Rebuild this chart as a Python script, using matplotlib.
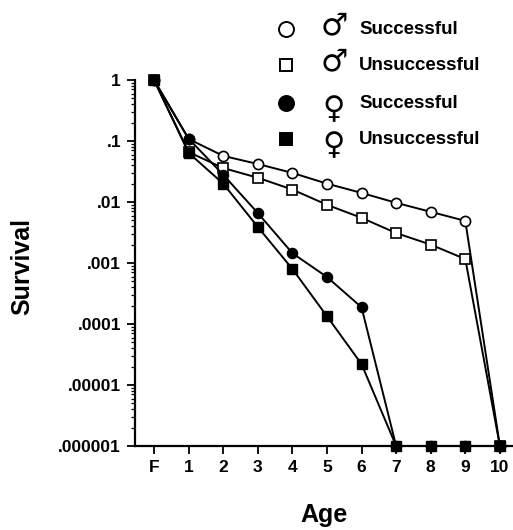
import matplotlib
matplotlib.use("Agg")
import matplotlib.pyplot as plt
from matplotlib.ticker import FixedLocator, LogLocator, NullFormatter

plt.rcParams['font.family'] = ['Liberation Sans', 'DejaVu Sans']

ages = ["F", "1", "2", "3", "4", "5", "6", "7", "8", "9", "10"]
male_success = [1, 0.108, 0.057, 0.042, 0.030, 0.020, 0.0141, 0.0097, 0.0069, 0.0049, 1e-6]
male_unsuccess = [1, 0.066, 0.036, 0.025, 0.016, 0.0090, 0.0055, 0.0031, 0.0020, 0.00116, 1e-6]
female_success = [1, 0.109, 0.028, 0.0066, 0.00145, 0.00059, 0.000188, 1e-6, 1e-6, 1e-6, 1e-6]
female_unsuccess = [1, 0.064, 0.020, 0.0039, 0.00080, 0.000134, 2.2e-5, 1e-6, 1e-6, 1e-6, 1e-6]
ytick_vals = [1, 0.1, 0.01, 0.001, 0.0001, 0.00001, 0.000001]
ytick_labels = ["1", ".1", ".01", ".001", ".0001", ".00001", ".000001"]
legend_labels = ["Successful", "Unsuccessful", "Successful", "Unsuccessful"]
legend_sex = ["\u2642", "\u2642", "\u2640", "\u2640"]

W, H = 513, 530
fig = plt.figure(figsize=(W / 100, H / 100), dpi=100)
ax = fig.add_axes([135 / W, 1 - 446 / H, 377 / W, 366 / H])

x = list(range(len(ages)))
lw = 1.4
ax.plot(x, male_success, '-o', color='black', mfc='white', mec='black', lw=lw, ms=7.3, mew=1.2, clip_on=False, zorder=3)
ax.plot(x, male_unsuccess, '-s', color='black', mfc='white', mec='black', lw=lw, ms=6.8, mew=1.2, clip_on=False, zorder=3)
ax.plot(x, female_success, '-o', color='black', mfc='black', mec='black', lw=lw, ms=7.3, clip_on=False, zorder=4)
ax.plot(x, female_unsuccess, '-s', color='black', mfc='black', mec='black', lw=lw, ms=6.8, clip_on=False, zorder=4)

ax.set_yscale('log')
ax.set_ylim(1e-6, 1.0)
ax.set_xlim(-0.55, 10.35)
ax.yaxis.set_major_locator(FixedLocator(ytick_vals))
ax.set_yticklabels(ytick_labels, fontsize=12.5, fontweight='bold')
ax.yaxis.set_minor_locator(LogLocator(base=10, subs=range(2, 10), numticks=20))
ax.yaxis.set_minor_formatter(NullFormatter())
ax.set_xticks(x)
ax.set_xticklabels(ages, fontsize=12.5, fontweight='bold')

for s in ['top', 'right']:
    ax.spines[s].set_visible(False)
for s in ['left', 'bottom']:
    ax.spines[s].set_linewidth(1.6)
ax.tick_params(axis='both', which='major', direction='out', length=6, width=1.3, pad=4)
ax.tick_params(axis='y', which='minor', direction='out', length=3, width=0.9)

ax.set_ylabel("Survival", fontsize=18, fontweight='bold', va='center')
ax.yaxis.set_label_coords((22 - 135) / 377, 0.49)
ax.set_xlabel("Age", fontsize=18, fontweight='bold', va='center')
ax.xaxis.set_label_coords((324 - 135) / 377, (446 - 515) / 366)

# legend (manual)
leg_rows = [29, 65, 103, 139]
markers = [('o', 'white', 10.8), ('s', 'white', 9.3), ('o', 'black', 10.8), ('s', 'black', 9.3)]
sex_dy = [-3, -3, 7, 7]
for yy, (mk, fc, msz), sx, dy, lab in zip(leg_rows, markers, legend_sex, sex_dy, legend_labels):
    fy = 1 - yy / H
    fig.lines.append(plt.Line2D([286 / W], [fy], marker=mk, mfc=fc, mec='black', ms=msz, mew=1.4,
                                color='black', transform=fig.transFigure))
    fig.text(334 / W, 1 - (yy + dy) / H, sx, fontsize=22, ha='center', va='center', family=['DejaVu Sans'])
    fig.text(359 / W, fy, lab, fontsize=13.5, fontweight='bold', ha='left', va='center')

fig.savefig("out.png", dpi=100)
